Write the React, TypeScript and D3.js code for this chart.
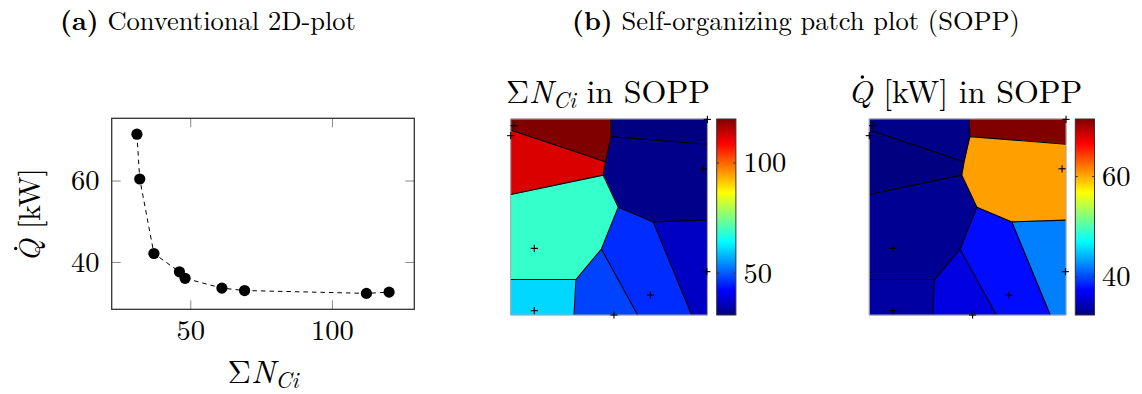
import React from "react";
import * as d3 from "d3";

// Designs: total component count, heat duty, and their positions on the self-organizing map
const sumN = [31, 32, 37, 46, 48, 61, 69, 112, 120];
const heatQ = [71.5, 60.5, 42.2, 37.7, 36.1, 33.7, 33.1, 32.4, 32.7];
const somU = [1.0, 0.98, 0.997, 0.71, 0.525, 0.12, 0.12, 0.0, 0.017];
const somV = [0.002, 0.254, 0.779, 0.898, 1.0, 0.978, 0.66, 0.085, 0.034];

const xTicks = [50, 100];
const yTicks = [40, 60];
const sumNBarTicks = [50, 100];
const qBarTicks = [40, 60];

const FONT = "'Latin Modern Roman', 'CMU Serif', 'Liberation Serif', serif";
const TICK_FS = 28.5;
const LABEL_FS = 32.5;
const YLABEL_FS = 30;
const HEAD_FS = 26.5;

// jet colormap
const jetStops: [number, number, number, number][] = [
  [0, 0, 0, 0.5],
  [0.125, 0, 0, 1],
  [0.375, 0, 1, 1],
  [0.625, 1, 1, 0],
  [0.875, 1, 0, 0],
  [1, 0.5, 0, 0],
];
const jet = d3
  .scaleLinear<string>()
  .domain(jetStops.map((s) => s[0]))
  .range(jetStops.map((s) => d3.rgb(s[1] * 255, s[2] * 255, s[3] * 255).formatHex()))
  .interpolate(d3.interpolateRgb)
  .clamp(true);

function enlarged(vals: number[]): [number, number] {
  const [lo, hi] = d3.extent(vals) as [number, number];
  const pad = (hi - lo) * 0.1;
  return [lo - pad, hi + pad];
}

// "Q" with a dot accent, drawn from a given text start (x, baseline)
function QDot({ x, y, fs, rest }: { x: number; y: number; fs: number; rest: string }) {
  return (
    <g>
      <text x={x} y={y} fontSize={fs}>
        <tspan fontStyle="italic">Q</tspan>
        {rest}
      </text>
      <circle cx={x + 0.45 * fs} cy={y - 0.81 * fs} r={0.055 * fs} fill="#000" />
    </g>
  );
}

// Conventional scatter plot geometry
const AX = { left: 111.7, right: 414.3, top: 118.3, bottom: 309.3 };

function ScatterPanel() {
  const x = d3.scaleLinear().domain(enlarged(sumN)).range([AX.left, AX.right]);
  const y = d3.scaleLinear().domain(enlarged(heatQ)).range([AX.bottom, AX.top]);
  const pts = sumN.map((n, i) => [n, heatQ[i]] as [number, number]);
  const line = d3
    .line<[number, number]>()
    .x((d) => x(d[0]))
    .y((d) => y(d[1]));
  const tickLen = 9;
  return (
    <g>
      <text x={208} y={30} textAnchor="middle" fontSize={HEAD_FS}>
        <tspan fontWeight="bold">(a)</tspan> Conventional 2D-plot
      </text>
      {xTicks.map((t) => (
        <g key={"xt" + t}>
          <line x1={x(t)} x2={x(t)} y1={AX.bottom} y2={AX.bottom - tickLen} stroke="#888" strokeWidth={1} />
          <line x1={x(t)} x2={x(t)} y1={AX.top} y2={AX.top + tickLen} stroke="#888" strokeWidth={1} />
          <text x={x(t)} y={340} textAnchor="middle" fontSize={TICK_FS}>
            {t}
          </text>
        </g>
      ))}
      {yTicks.map((t) => (
        <g key={"yt" + t}>
          <line x1={AX.left} x2={AX.left + tickLen} y1={y(t)} y2={y(t)} stroke="#888" strokeWidth={1} />
          <line x1={AX.right} x2={AX.right - tickLen} y1={y(t)} y2={y(t)} stroke="#888" strokeWidth={1} />
          <text x={99.5} y={y(t) + 0.33 * TICK_FS} textAnchor="end" fontSize={TICK_FS}>
            {t}
          </text>
        </g>
      ))}
      <rect
        x={AX.left}
        y={AX.top}
        width={AX.right - AX.left}
        height={AX.bottom - AX.top}
        fill="none"
        stroke="#333"
        strokeWidth={1.3}
      />
      <path d={line(pts) || ""} fill="none" stroke="#000" strokeWidth={1} strokeDasharray="4.5 4" />
      {pts.map((p, i) => (
        <circle key={i} cx={x(p[0])} cy={y(p[1])} r={5.6} fill="#000" />
      ))}
      <text x={(AX.left + AX.right) / 2} y={383} textAnchor="middle" fontSize={LABEL_FS}>
        Σ<tspan fontStyle="italic">N</tspan>
        <tspan fontStyle="italic" fontSize={LABEL_FS * 0.7} dy={5}>
          Ci
        </tspan>
      </text>
      <g transform={`translate(40,215) rotate(-90)`}>
        <QDot x={-47} y={0} fs={YLABEL_FS} rest=" [kW]" />
      </g>
    </g>
  );
}

type PatchProps = {
  left: number;
  values: number[];
  barTicks: number[];
  gradId: string;
  title: React.ReactNode;
};

const PATCH = { top: 119, bottom: 315, size: 196.7, barGap: 9.3, barW: 19.2 };

function PatchPanel({ left, values, barTicks, gradId, title }: PatchProps) {
  const right = left + PATCH.size;
  const mx = d3.scaleLinear().domain([0, 1]).range([left, right]);
  const my = d3.scaleLinear().domain([0, 1]).range([PATCH.top, PATCH.bottom]);
  const pts = somU.map((u, i) => [mx(u), my(somV[i])] as [number, number]);
  const vor = d3.Delaunay.from(pts).voronoi([left, PATCH.top, right, PATCH.bottom]);
  const [vmin, vmax] = d3.extent(values) as [number, number];
  const norm = d3.scaleLinear().domain([vmin, vmax]).range([0, 1]);
  const barX = right + PATCH.barGap;
  const barY = d3.scaleLinear().domain([vmin, vmax]).range([PATCH.bottom, PATCH.top]);
  const stops = d3.range(0, 1.0001, 0.0625);
  const cross = 3.6;
  return (
    <g>
      <defs>
        <linearGradient id={gradId} x1="0" y1="1" x2="0" y2="0">
          {stops.map((s) => (
            <stop key={s} offset={s} stopColor={jet(s)} />
          ))}
        </linearGradient>
      </defs>
      {title}
      {values.map((v, i) => (
        <path key={i} d={vor.renderCell(i)} fill={jet(norm(v))} stroke={jet(norm(v))} strokeWidth={0.5} />
      ))}
      <path d={vor.render()} fill="none" stroke="#000" strokeWidth={1.1} />
      <rect
        x={left}
        y={PATCH.top}
        width={PATCH.size}
        height={PATCH.bottom - PATCH.top}
        fill="none"
        stroke="#a8a8a8"
        strokeWidth={1}
      />
      {pts.map((p, i) => (
        <g key={"c" + i} stroke="#000" strokeWidth={1.1}>
          <line x1={p[0] - cross} x2={p[0] + cross} y1={p[1]} y2={p[1]} />
          <line x1={p[0]} x2={p[0]} y1={p[1] - cross} y2={p[1] + cross} />
        </g>
      ))}
      <rect
        x={barX}
        y={PATCH.top}
        width={PATCH.barW}
        height={PATCH.bottom - PATCH.top}
        fill={`url(#${gradId})`}
        stroke="#333"
        strokeWidth={1}
      />
      {barTicks.map((t) => (
        <g key={"bt" + t}>
          <line x1={barX} x2={barX + 2.5} y1={barY(t)} y2={barY(t)} stroke="#333" strokeWidth={1} />
          <line x1={barX + PATCH.barW} x2={barX + PATCH.barW - 2.5} y1={barY(t)} y2={barY(t)} stroke="#333" strokeWidth={1} />
          <text x={barX + PATCH.barW + 7.5} y={barY(t) + 0.33 * TICK_FS} fontSize={TICK_FS}>
            {t}
          </text>
        </g>
      ))}
    </g>
  );
}

export default function App() {
  const titleFs = 32;
  return (
    <svg
      width={1142}
      height={394}
      viewBox="0 0 1142 394"
      style={{ position: "absolute", left: 0, top: 0, background: "#fff" }}
      fontFamily={FONT}
      fill="#000"
    >
      <rect width={1142} height={394} fill="#fff" />
      <ScatterPanel />
      <text x={796} y={30} textAnchor="middle" fontSize={HEAD_FS}>
        <tspan fontWeight="bold">(b)</tspan> Self-organizing patch plot (SOPP)
      </text>
      <PatchPanel
        left={510.7}
        values={sumN}
        barTicks={sumNBarTicks}
        gradId="jetA"
        title={
          <text x={506} y={103} fontSize={titleFs}>
            Σ<tspan fontStyle="italic">N</tspan>
            <tspan fontStyle="italic" fontSize={titleFs * 0.7} dy={5}>
              Ci
            </tspan>
            <tspan dy={-5}> in SOPP</tspan>
          </text>
        }
      />
      <PatchPanel
        left={869.3}
        values={heatQ}
        barTicks={qBarTicks}
        gradId="jetB"
        title={<QDot x={848} y={103} fs={titleFs} rest=" [kW] in SOPP" />}
      />
    </svg>
  );
}
